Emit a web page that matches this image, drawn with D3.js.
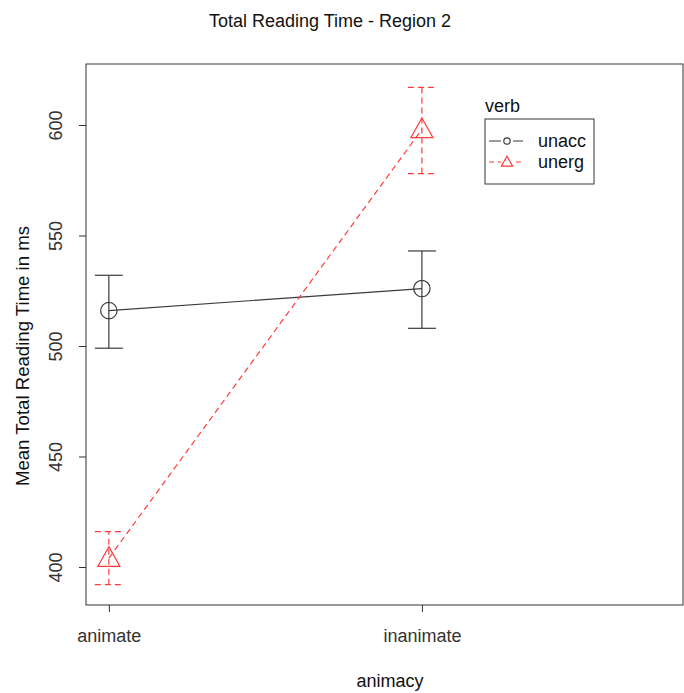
<!DOCTYPE html>
<html>
<head>
<meta charset="utf-8">
<script src="https://cdn.jsdelivr.net/npm/d3@7"></script>
<style>
  body { margin: 0; background: #fff; }
  svg { display: block; font-family: "Liberation Sans", Arial, sans-serif; }
</style>
</head>
<body>
<svg id="chart" width="684" height="693"></svg>
<script>
// factor levels along x
const animacy = ['animate', 'inanimate'];
const verbs = ['unacc', 'unerg'];

// means and error bar limits
const unaccMean = [516, 526];
const unaccLow = [499, 508];
const unaccHigh = [532, 543];
const unergMean = [404, 598];
const unergLow = [392, 578];
const unergHigh = [416, 617];

const yTicks = [400, 450, 500, 550, 600];

const series = [
  { name: verbs[0], mean: unaccMean, low: unaccLow, high: unaccHigh, color: '#3a3a3a', dash: null, shape: 'circle' },
  { name: verbs[1], mean: unergMean, low: unergLow, high: unergHigh, color: '#ff3c3c', dash: '6,4', shape: 'triangle' },
];

const box = { left: 86, right: 683, top: 64, bottom: 605 };
const fs = 18;

const svg = d3.select('#chart');

const x = d3.scaleLinear().domain([0.927, 2.834]).range([box.left, box.right]);
const y = d3.scaleLinear().domain([382.8, 627.6]).range([box.bottom, box.top]);

// plot frame
svg.append('rect')
  .attr('x', box.left).attr('y', box.top)
  .attr('width', box.right - box.left).attr('height', box.bottom - box.top)
  .attr('fill', 'none').attr('stroke', '#333').attr('stroke-width', 1);

// y axis
const yAxis = svg.append('g')
  .attr('transform', `translate(${box.left},0)`)
  .call(d3.axisLeft(y).tickValues(yTicks).tickSize(7).tickPadding(0));
yAxis.select('.domain').remove();
yAxis.selectAll('.tick line').attr('stroke', '#333');
yAxis.selectAll('.tick text')
  .attr('transform', 'rotate(-90)')
  .attr('x', 0).attr('y', -24)
  .attr('text-anchor', 'middle')
  .attr('dy', 0)
  .attr('font-size', fs).attr('fill', '#333');

// x axis
const xAxis = svg.append('g')
  .attr('transform', `translate(0,${box.bottom})`)
  .call(d3.axisBottom(x).tickValues([1, 2]).tickFormat((d) => animacy[d - 1]).tickSize(7).tickPadding(17));
xAxis.select('.domain').remove();
xAxis.selectAll('.tick line').attr('stroke', '#333');
xAxis.selectAll('.tick text').attr('font-size', fs).attr('fill', '#333');

// titles
svg.append('text').attr('x', 330).attr('y', 27).attr('text-anchor', 'middle')
  .attr('font-size', fs).attr('fill', '#111').text('Total Reading Time - Region 2');
svg.append('text').attr('x', 390).attr('y', 687).attr('text-anchor', 'middle')
  .attr('font-size', fs).attr('fill', '#111').text('animacy');
svg.append('text').attr('transform', 'translate(29,356) rotate(-90)')
  .attr('text-anchor', 'middle').attr('font-size', fs + 0.6).attr('fill', '#111')
  .text('Mean Total Reading Time in ms');

const line = d3.line().x((d, i) => x(i + 1)).y((d) => y(d));

function drawSymbol(g, shape, cx, cy, size, color) {
  if (shape === 'circle') {
    g.append('circle').attr('cx', cx).attr('cy', cy).attr('r', size)
      .attr('fill', 'none').attr('stroke', color).attr('stroke-width', 1.2);
  } else {
    const w = size * 1.35;
    g.append('path')
      .attr('d', `M${cx},${cy - size * 1.4}L${cx + w},${cy + size * 1.0}L${cx - w},${cy + size * 1.0}Z`)
      .attr('fill', 'none').attr('stroke', color).attr('stroke-width', 1.2);
  }
}

series.forEach((s) => {
  const g = svg.append('g');
  // error bars
  s.mean.forEach((m, i) => {
    const cx = x(i + 1);
    g.append('line').attr('x1', cx).attr('x2', cx).attr('y1', y(s.low[i])).attr('y2', y(s.high[i]))
      .attr('stroke', s.color).attr('stroke-width', 1.2).attr('stroke-dasharray', s.dash);
    [s.low[i], s.high[i]].forEach((v) => {
      g.append('line').attr('x1', cx - 14).attr('x2', cx + 14).attr('y1', y(v)).attr('y2', y(v))
        .attr('stroke', s.color).attr('stroke-width', 1.2).attr('stroke-dasharray', s.dash);
    });
  });
  // connecting line
  g.append('path').datum(s.mean).attr('d', line)
    .attr('fill', 'none').attr('stroke', s.color).attr('stroke-width', 1.2)
    .attr('stroke-dasharray', s.dash);
  // symbols
  s.mean.forEach((m, i) => drawSymbol(g, s.shape, x(i + 1), y(m), 8.2, s.color));
});

// legend
const lg = svg.append('g').attr('transform', 'translate(485,119)');
lg.append('text').attr('x', 0).attr('y', -7).attr('font-size', fs).attr('fill', '#111').text('verb');
lg.append('rect').attr('x', 0).attr('y', 0).attr('width', 109).attr('height', 65)
  .attr('fill', 'none').attr('stroke', '#333');
series.forEach((s, i) => {
  const ly = 22 + i * 21;
  lg.append('line').attr('x1', 4).attr('x2', 38).attr('y1', ly).attr('y2', ly)
    .attr('stroke', s.color).attr('stroke-width', 1.2).attr('stroke-dasharray', s.dash ? '5,4' : null);
  lg.append('rect').attr('x', 16).attr('y', ly - 6).attr('width', 12).attr('height', 11).attr('fill', '#fff');
  drawSymbol(lg, s.shape, 22, ly, s.shape === 'circle' ? 3.2 : 4.2, s.color);
  lg.append('text').attr('x', 53).attr('y', ly + 6).attr('font-size', fs).attr('fill', '#111').text(s.name);
});
</script>
</body>
</html>
